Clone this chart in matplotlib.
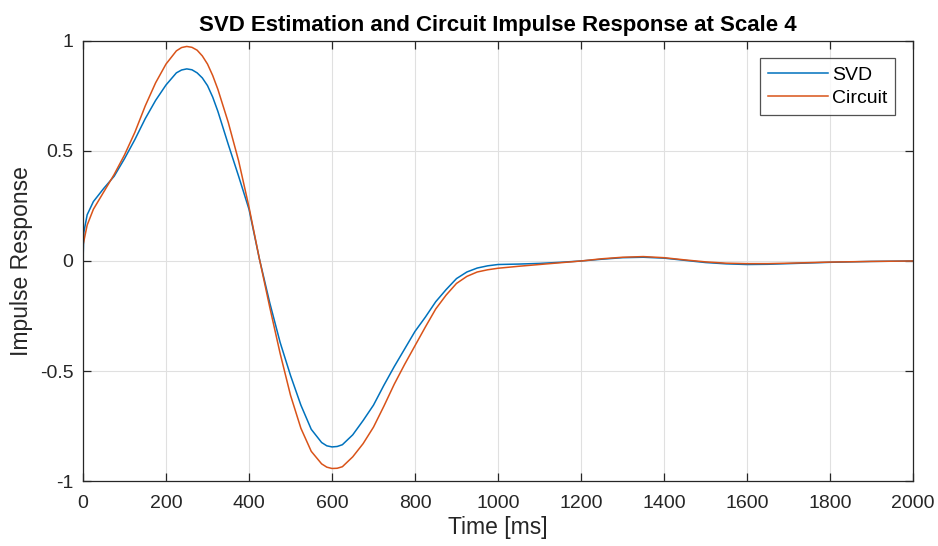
import matplotlib
matplotlib.use('Agg')
import matplotlib.pyplot as plt

# time axis in ms (sample points)
t_ms = [0, 2, 10, 25, 50, 75, 100, 125, 150, 175, 200, 225, 237.5, 250, 262.5, 275, 287.5,
        300, 312.5, 325, 350, 375, 400, 425, 450, 475, 500, 525, 550, 575, 587.5, 600, 612.5,
        625, 650, 675, 700, 725, 750, 775, 800, 825, 850, 875, 900, 925, 950, 975, 1000,
        1050, 1100, 1150, 1200, 1250, 1300, 1350, 1400, 1450, 1500, 1550, 1600, 1650, 1700,
        1800, 1900, 2000]

svd = [0.0, 0.13, 0.21, 0.27, 0.33, 0.385, 0.465, 0.552, 0.647, 0.73, 0.80, 0.855, 0.868,
       0.873, 0.869, 0.855, 0.832, 0.797, 0.745, 0.68, 0.53, 0.385, 0.235, 0.01, -0.19,
       -0.37, -0.52, -0.655, -0.765, -0.825, -0.84, -0.845, -0.843, -0.835, -0.79, -0.725,
       -0.655, -0.565, -0.48, -0.40, -0.32, -0.255, -0.185, -0.13, -0.08, -0.05, -0.032,
       -0.022, -0.016, -0.014, -0.011, -0.006, 0.0, 0.008, 0.015, 0.017, 0.013, 0.003,
       -0.007, -0.013, -0.016, -0.015, -0.012, -0.006, -0.002, 0.0]

circuit = [0.072, 0.09, 0.163, 0.235, 0.314, 0.393, 0.482, 0.585, 0.705, 0.81, 0.895, 0.955,
           0.97, 0.975, 0.971, 0.958, 0.932, 0.895, 0.843, 0.78, 0.63, 0.455, 0.245, 0.01,
           -0.21, -0.42, -0.61, -0.76, -0.865, -0.922, -0.937, -0.943, -0.942, -0.935, -0.89,
           -0.83, -0.755, -0.66, -0.56, -0.47, -0.385, -0.30, -0.218, -0.155, -0.102, -0.07,
           -0.05, -0.04, -0.033, -0.024, -0.016, -0.008, 0.0, 0.01, 0.017, 0.02, 0.015, 0.005,
           -0.004, -0.01, -0.012, -0.012, -0.01, -0.005, -0.002, 0.0]

x_ticks = [0, 200, 400, 600, 800, 1000, 1200, 1400, 1600, 1800, 2000]
y_ticks = [-1, -0.5, 0, 0.5, 1]
y_tick_labels = ['-1', '-0.5', '0', '0.5', '1']

plt.rcParams['font.family'] = ['Liberation Sans', 'DejaVu Sans']

fig = plt.figure(figsize=(9.38, 5.46), dpi=100)
ax = fig.add_axes([0.0885, 0.119, 0.8848, 0.806])

ax.plot(t_ms, svd, color='#0072BD', lw=1.1, label='SVD', solid_joinstyle='round')
ax.plot(t_ms, circuit, color='#D95319', lw=1.1, label='Circuit', solid_joinstyle='round')

ax.set_xlim(0, 2000)
ax.set_ylim(-1, 1)
ax.set_xticks(x_ticks)
ax.set_yticks(y_ticks)
ax.set_yticklabels(y_tick_labels)
ax.grid(True, color='#e0e0e0', lw=0.8)
ax.set_axisbelow(True)
ax.tick_params(direction='in', top=True, right=True, length=6, width=0.9,
               labelsize=14, labelcolor='#262626', color='#262626')
ax.tick_params(axis='x', pad=10)
ax.tick_params(axis='y', pad=7)
for s in ax.spines.values():
    s.set_color('#262626')
    s.set_linewidth(0.9)

ax.set_xlabel('Time [ms]', fontsize=16.5, color='#262626', labelpad=3)
ax.set_ylabel('Impulse Response', fontsize=16.5, color='#262626', labelpad=5)
ax.set_title('SVD Estimation and Circuit Impulse Response at Scale 4',
             fontsize=16, fontweight='bold', color='#000000', pad=7)

leg = ax.legend(loc='upper right', fontsize=14, frameon=True, fancybox=False,
                edgecolor='#262626', handlelength=3.1, handletextpad=0.2,
                borderaxespad=0.9, labelspacing=0.3, borderpad=0.4)
leg.get_frame().set_linewidth(0.9)

fig.savefig('out.png', dpi=100)
